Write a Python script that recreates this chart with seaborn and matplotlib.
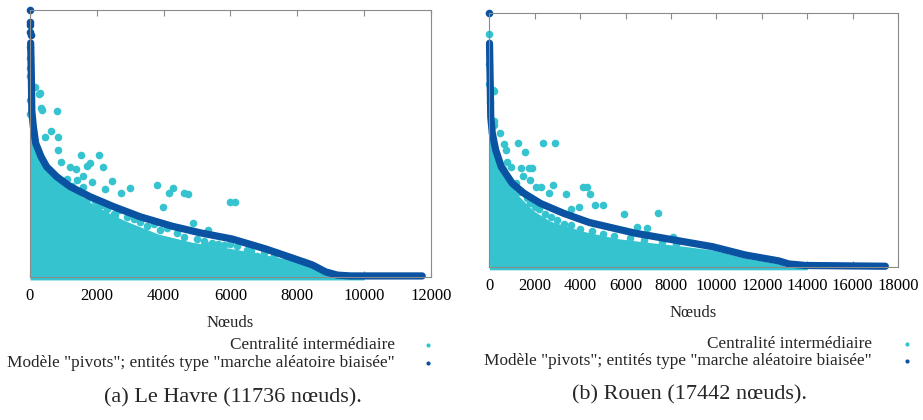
import numpy as np
import pandas as pd
import matplotlib
matplotlib.use("Agg")
import matplotlib.pyplot as plt
import seaborn as sns
from matplotlib.lines import Line2D

# ---------------- data (y in % of max) -------------
# (a) Le Havre
LH_XTICKS = [0, 2000, 4000, 6000, 8000, 10000, 12000]
LH_XMAX = 12000
LH_TOP_X = [0, 5, 8, 12, 15]
LH_TOP_Y = [100, 95.3, 94.2, 91.6, 90.5]
LH_CURVE_X = [20, 40, 55, 100, 170, 330, 500, 800, 1200, 1800, 2500, 3300, 4250,
              5100, 6050, 7050, 7850, 8450, 8850, 9200, 9600, 11736]
LH_CURVE_Y = [87.5, 75, 62, 56.2, 50, 45, 41.2, 37.5, 33.8, 30, 26.3, 22.5, 19,
              16.5, 14.2, 10.5, 7.1, 4.5, 1.9, 0.7, 0.4, 0.4]
LH_ENV_X = [0, 100, 200, 500, 850, 1350, 1850, 2350, 2850, 3850, 4850, 5850,
            6850, 7850, 8450, 8900, 9200, 10000]
LH_ENV_Y = [57, 55, 47, 41.5, 36.5, 32, 27.5, 24, 21, 16, 13, 11,
            8.8, 6.2, 3.7, 1.1, 0, 0]
LH_OUT_X = [0, 0, 0, 0, 10, 10, 149, 269, 299, 329, 349, 448, 618, 797, 827, 847,
            927, 1196, 1365, 1395, 1514, 1594, 1694, 1793, 1843, 2023, 2052, 2172,
            2242, 2441, 2541, 2720, 2999, 3786, 3966, 4155, 4284, 4623, 4732, 4881,
            5330, 5978, 6127, 5230, 5620, 5978, 6486, 6785,
            700, 950, 1100, 1250, 1450, 1600, 1750, 1950, 2150, 2300, 2500, 2650,
            2900, 3100, 3300, 3500, 3700, 3900, 4100, 4400, 4600, 5000, 5200, 5450,
            5800, 6200, 6600, 7000, 7300, 7700, 8200]
LH_OUT_Y = [86, 82, 78, 75, 66, 61, 70.9, 68.4, 68.7, 63.0, 62.5, 52.5, 54.7, 62.2,
            47.5, 52.5, 43.1, 41.2, 40.3, 36.3, 45.7, 37.8, 41.4, 42.5, 35.6, 26.5,
            45.7, 41.1, 32.8, 35.9, 23.2, 31.3, 33.4, 34.4, 26.2, 31.3, 33.4, 31.5,
            30.9, 20.2, 17.7, 27.9, 27.9, 12.5, 12.5, 12.3, 10.2, 7.8,
            38, 35, 36.5, 34, 31.5, 33.5, 29.5, 28.5, 27, 25.5, 23.5, 25,
            22.5, 21.8, 20.5, 19, 20, 17.5, 18.5, 16.5, 15, 14.2, 13.5, 12.8,
            12, 11.5, 9.8, 8.8, 8.2, 7.2, 5.5]

# (b) Rouen
RO_XTICKS = [0, 2000, 4000, 6000, 8000, 10000, 12000, 14000, 16000, 18000]
RO_XMAX = 18000
RO_TOP_X = [0]
RO_TOP_Y = [100]
RO_CURVE_X = [5, 20, 40, 60, 127, 276, 523, 1005, 1518, 2250, 3272, 4400, 6416,
              8535, 9821, 11285, 12747, 13184, 13917, 17442]
RO_CURVE_Y = [88, 80, 70, 59, 52.6, 46, 39.4, 32.9, 29, 25, 21.1, 17.5, 13.3,
              10, 8.0, 4.7, 2.4, 1.2, 0.6, 0.3]
RO_ENV_X = [0, 200, 346, 640, 1224, 1956, 2688, 4149, 5610, 7073, 8535, 9821,
            11285, 12747, 13100, 14000]
RO_ENV_Y = [59, 48, 43, 37.5, 28.5, 22, 18, 14, 11.2, 9.6, 8.2, 6.7,
            3.5, 1.2, 0, 0]
RO_OUT_X = [0, 0, 0, 10, 171, 202, 202, 202, 465, 640, 714, 785, 961, 1268, 1372,
            1488, 1561, 1737, 1781, 1883, 2073, 2294, 2364, 2628, 2790, 2884, 3390,
            3592, 3930, 4134, 4294, 4412, 4646, 5011, 5925, 6486, 6925, 7445, 8096,
            300, 450, 600, 800, 1000, 1150, 1300, 1650, 1800, 2000, 2200, 2450,
            2700, 3000, 3300, 3600, 4000, 4500, 5000, 5500, 6200, 6800, 7600, 8200]
RO_OUT_Y = [91.5, 80, 72, 65, 69.6, 69.3, 57.5, 55.8, 52.6, 48.4, 46.0, 41.4, 39.2,
            48.7, 38.8, 35.8, 45.1, 38.9, 34.4, 38.9, 31.6, 31.6, 48.7, 29.0, 32.1,
            48.7, 28.7, 23.0, 23.7, 31.3, 31.6, 28.7, 24.4, 24.4, 20.9, 15.8, 15.2,
            21.4, 11.9,
            42, 40, 38.5, 35, 31, 33, 29.5, 27, 25, 23.5, 22.8, 21,
            19.5, 18.5, 17, 16.5, 15, 14.2, 13, 12, 11.5, 10.8, 10, 9.2]

LABEL_C = "Centralité intermédiaire"
LABEL_M = "Modèle \"pivots\"; entités type \"marche aléatoire biaisée\""
XLABEL = "Nœuds"
CAPTION_A = "(a) Le Havre (11736 nœuds)."
CAPTION_B = "(b) Rouen (17442 nœuds)."

# ---------------- style ----------------
sns.set_style("white")
plt.rcParams['font.family'] = ['Liberation Serif', 'DejaVu Serif']

W, H = 923, 420
fig = plt.figure(figsize=(W / 100, H / 100), dpi=100)

CYAN = '#36C3D0'
BLUE = '#0A52A2'
FRAME = '#8a8a8a'


def add_axes_px(l, t, r, b):
    return fig.add_axes([l / W, 1 - b / H, (r - l) / W, (b - t) / H])


def fy(y):
    return 1 - y / H


def draw(ax, xmax, xticks, env_x, env_y, out_x, out_y, top_x, top_y, cur_x, cur_y,
         base):
    ax.fill_between(env_x, env_y, base, color=CYAN, lw=0, clip_on=False, zorder=1)
    sns.scatterplot(x=out_x, y=out_y, ax=ax, color=CYAN, s=30, linewidth=0,
                    clip_on=False, zorder=2, legend=False)
    sns.lineplot(x=cur_x, y=cur_y, ax=ax, color=BLUE, lw=5.2, sort=False,
                 solid_capstyle='round', solid_joinstyle='round',
                 clip_on=False, zorder=3, legend=False)
    sns.scatterplot(x=top_x, y=top_y, ax=ax, color=BLUE, s=30, linewidth=0,
                    clip_on=False, zorder=3, legend=False)
    ax.set_xlim(0, xmax)
    ax.set_ylim(0, 100)
    ax.set_xticks(xticks)
    ax.set_xticklabels([str(t) for t in xticks])
    ax.set_yticks([])
    ax.tick_params(axis='x', direction='in', length=4, width=0.8, color=FRAME,
                   top=True, bottom=True, labelsize=12, pad=8, labelcolor='black')
    for s in ax.spines.values():
        s.set_visible(True)
        s.set_color(FRAME)
        s.set_linewidth(0.8)
        s.set_zorder(4)
    ax.set_xlabel('')
    ax.set_ylabel('')


axA = add_axes_px(30, 9.5, 431, 277)
draw(axA, LH_XMAX, LH_XTICKS, LH_ENV_X, LH_ENV_Y, LH_OUT_X, LH_OUT_Y,
     LH_TOP_X, LH_TOP_Y, LH_CURVE_X, LH_CURVE_Y, -1.1)

axB = add_axes_px(489.4, 12.7, 898, 267)
draw(axB, RO_XMAX, RO_XTICKS, RO_ENV_X, RO_ENV_Y, RO_OUT_X, RO_OUT_Y,
     RO_TOP_X, RO_TOP_Y, RO_CURVE_X, RO_CURVE_Y, -1.1)

# x labels
fig.text(230 / W, fy(323), XLABEL, ha='center', va='center', fontsize=12)
fig.text(693 / W, fy(313), XLABEL, ha='center', va='center', fontsize=12)

# keys (gnuplot style: text right-aligned, marker on the right)
def key(xtext, xmark, y1, y2):
    fig.text(xtext / W, fy(y1), LABEL_C, ha='right', va='center', fontsize=12.4)
    fig.text(xtext / W, fy(y2), LABEL_M, ha='right', va='center', fontsize=12.4)
    fig.add_artist(Line2D([xmark / W], [fy(y1)], marker='o', ms=3, color=CYAN,
                          mew=0, transform=fig.transFigure))
    fig.add_artist(Line2D([xmark / W], [fy(y2)], marker='o', ms=3, color=BLUE,
                          mew=0, transform=fig.transFigure))

key(395, 428, 345, 363)
key(872, 907, 344, 361)

# captions
fig.text(233 / W, fy(398), CAPTION_A, ha='center', va='center', fontsize=16)
fig.text(690 / W, fy(395), CAPTION_B, ha='center', va='center', fontsize=16)

fig.savefig('out.png', dpi=100)
